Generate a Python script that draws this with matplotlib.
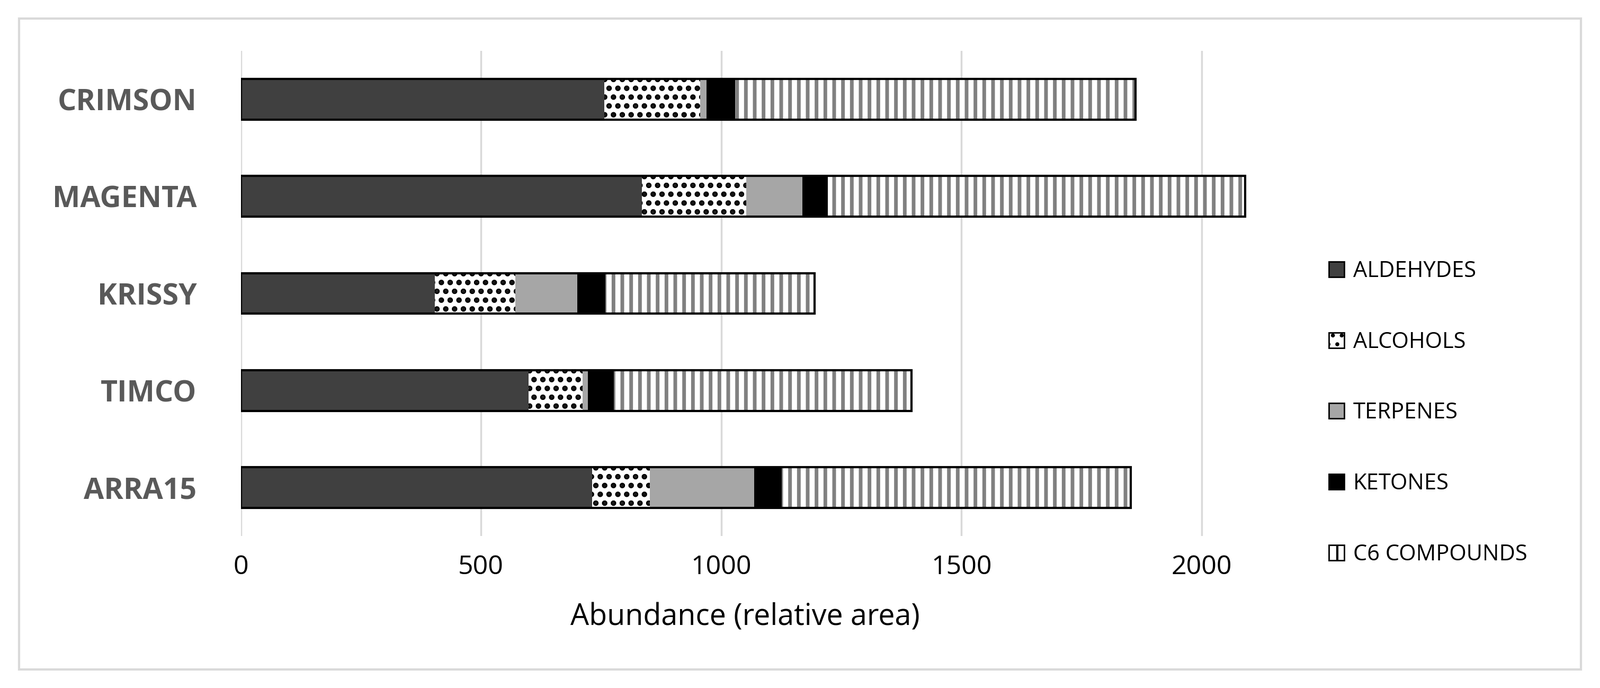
import matplotlib
matplotlib.use("Agg")
import matplotlib.pyplot as plt
from matplotlib.patches import Patch
import numpy as np

categories = ["ARRA15", "TIMCO", "KRISSY", "MAGENTA", "CRIMSON"]
aldehydes = [731, 599, 404, 835, 757]
alcohols = [121, 113, 168, 217, 199]
terpenes = [217, 11, 129, 117, 13]
ketones = [57, 53, 58, 53, 60]
c6 = [727, 620, 435, 869, 833]
series_names = ["ALDEHYDES", "ALCOHOLS", "TERPENES", "KETONES", "C6 COMPOUNDS"]

plt.rcParams["font.family"] = "Open Sans"
plt.rcParams["hatch.linewidth"] = 5.0
fig = plt.figure(figsize=(30.21, 12.99), dpi=100)
ax = fig.add_axes([0.1505, 0.221, 0.6305, 0.705])

styles = [
    dict(fc="#404040", hatch=None, hc="#404040"),
    dict(fc="white", hatch=".", hc="black"),
    dict(fc="#a6a6a6", hatch=None, hc="#a6a6a6"),
    dict(fc="black", hatch=None, hc="black"),
    dict(fc="white", hatch="|", hc="#808080"),
]
data = [aldehydes, alcohols, terpenes, ketones, c6]
y = np.arange(len(categories))
left = np.zeros(len(categories))
h = 0.42
for vals, st in zip(data, styles):
    ax.barh(y, vals, left=left, height=h, color=st["fc"], hatch=st["hatch"],
            edgecolor=st["hc"], linewidth=0, zorder=3)
    left += np.array(vals)
ax.barh(y, left, height=h, fill=False, edgecolor="black", linewidth=3, zorder=4)

ax.set_xlim(0, 2100)
ax.set_ylim(-0.5, 4.5)
ax.set_xticks([0, 500, 1000, 1500, 2000])
ax.grid(axis="x", color="#d9d9d9", linewidth=2.5, zorder=0)
ax.set_yticks(y)
ax.set_yticklabels(categories, fontsize=40, fontweight="bold", color="#595959")
ax.tick_params(axis="x", labelsize=36, length=0, pad=25)
ax.tick_params(axis="y", length=0, pad=60)
for s in ax.spines.values():
    s.set_visible(False)
ax.set_xlabel("Abundance (relative area)", fontsize=40, labelpad=30)

plt.rcParams["hatch.linewidth"] = 3.0
handles = [Patch(facecolor=st["fc"], hatch=st["hatch"], edgecolor="black", linewidth=2)
           for st in styles]
fig.legend(handles, series_names, loc="center left", bbox_to_anchor=(0.818, 0.40),
           frameon=False, fontsize=30, handlelength=0.7, handleheight=0.7,
           labelspacing=2.2, handletextpad=0.4)

fig.add_artist(plt.Rectangle((0.012, 0.027), 0.976, 0.946, transform=fig.transFigure,
                             fill=False, edgecolor="#d9d9d9", linewidth=3))
fig.savefig("out.png", dpi=100)
